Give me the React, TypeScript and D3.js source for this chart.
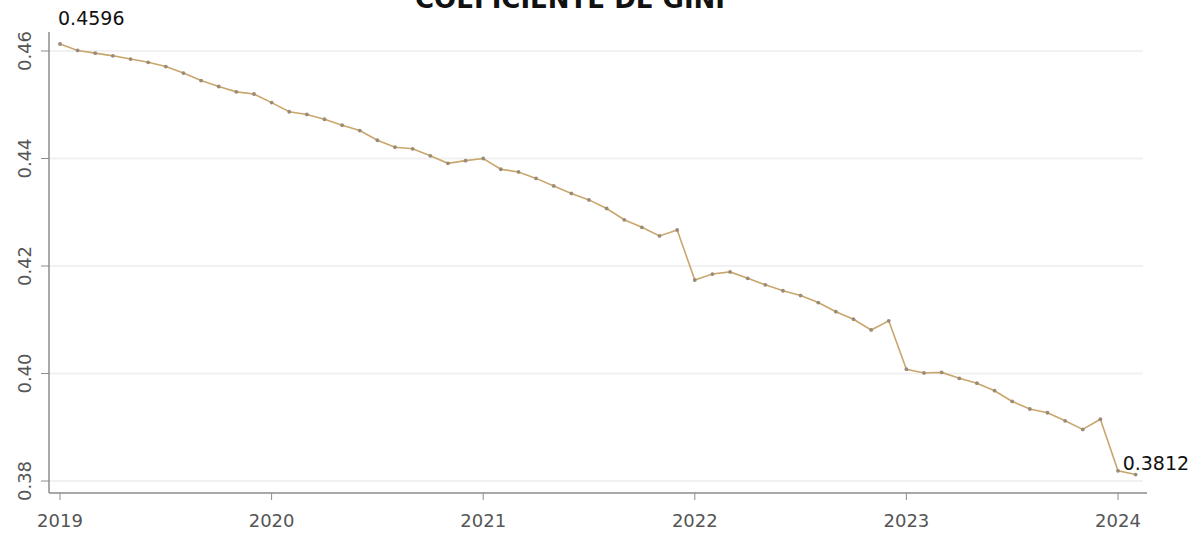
import React from "react";
import * as d3 from "d3";

// Monthly Gini coefficient, Jan 2019 – Feb 2024
const startYear = 2019;
const giniValues = [
  0.4613, 0.4601, 0.4596, 0.4591, 0.4585, 0.4579, 0.4571, 0.4559, 0.4545, 0.4534, 0.4524, 0.452,
  0.4504, 0.4487, 0.4482, 0.4473, 0.4462, 0.4452, 0.4434, 0.4421, 0.4418, 0.4405, 0.4391, 0.4396,
  0.44, 0.438, 0.4375, 0.4363, 0.4349, 0.4335, 0.4323, 0.4307, 0.4286, 0.4272, 0.4256, 0.4267,
  0.4174, 0.4185, 0.4189, 0.4177, 0.4165, 0.4154, 0.4145, 0.4132, 0.4115, 0.4101, 0.4081, 0.4098,
  0.4008, 0.4001, 0.4002, 0.3991, 0.3982, 0.3968, 0.3948, 0.3934, 0.3927, 0.3912, 0.3896, 0.3915,
  0.3819, 0.3812,
];
const yTicks = [0.38, 0.4, 0.42, 0.44, 0.46];
const yTickLabels = ["0.38", "0.40", "0.42", "0.44", "0.46"];
const xTickYears = [2019, 2020, 2021, 2022, 2023, 2024];
const title = "COEFICIENTE DE GINI";
const firstLabel = "0.4596";
const lastLabel = "0.3812";

const W = 1199;
const H = 533;
const FONT = "'DejaVu Sans', sans-serif";

export default function App() {
  const x = d3.scaleLinear().domain([2019, 2024]).range([60, 1118]);
  const y = d3.scaleLinear().domain([0.38, 0.46]).range([481, 51]);
  const axisLeft = 49;
  const axisRight = 1147;
  const axisBottom = 493;
  const axisTop = 32;

  const pts = giniValues.map((v, i) => ({ t: startYear + i / 12, v }));
  const line = d3
    .line<{ t: number; v: number }>()
    .x((d) => x(d.t))
    .y((d) => y(d.v));

  const first = pts[0];
  const last = pts[pts.length - 1];

  return (
    <div style={{ position: "absolute", left: 0, top: 0 }}>
      <svg width={W} height={H} style={{ display: "block", background: "#fff" }}>
        {/* title */}
        <text x={570} y={8} textAnchor="middle" fontFamily={FONT} fontWeight="bold" fontSize={26} fill="#111">
          {title}
        </text>
        {/* gridlines */}
        {yTicks.map((t) => (
          <line key={"g" + t} x1={axisLeft} x2={axisRight - 4} y1={y(t)} y2={y(t)} stroke="#f1f1f1" strokeWidth={2} />
        ))}
        {/* axes */}
        <line x1={axisLeft} x2={axisLeft} y1={axisTop} y2={axisBottom} stroke="#8c8c8c" strokeWidth={1.5} />
        <line x1={axisLeft} x2={axisRight} y1={axisBottom} y2={axisBottom} stroke="#8c8c8c" strokeWidth={1.5} />
        {yTicks.map((t, i) => (
          <g key={"yt" + t}>
            <line x1={axisLeft - 8} x2={axisLeft} y1={y(t)} y2={y(t)} stroke="#8c8c8c" strokeWidth={1} />
            <text
              transform={`translate(${31},${y(t)}) rotate(-90)`}
              textAnchor="middle"
              fontFamily={FONT}
              fontSize={18}
              fill="#555"
            >
              {yTickLabels[i]}
            </text>
          </g>
        ))}
        {xTickYears.map((yr) => (
          <g key={"xt" + yr}>
            <line x1={x(yr)} x2={x(yr)} y1={axisBottom} y2={axisBottom + 7} stroke="#8c8c8c" strokeWidth={1} />
            <text x={x(yr)} y={527} textAnchor="middle" fontFamily={FONT} fontSize={18} fill="#555">
              {yr}
            </text>
          </g>
        ))}
        {/* series */}
        <path d={line(pts) || ""} fill="none" stroke="#c9a66b" strokeWidth={1.6} />
        {pts.map((p, i) => (
          <circle key={"p" + i} cx={x(p.t)} cy={y(p.v)} r={1.9} fill="#9a8a78" />
        ))}
        {/* end labels */}
        <text x={x(first.t) - 2} y={y(first.v) - 19} fontFamily={FONT} fontSize={19} fill="#111">
          {firstLabel}
        </text>
        <text x={x(last.t) - 13} y={y(last.v) - 5} fontFamily={FONT} fontSize={19} fill="#111">
          {lastLabel}
        </text>
      </svg>
    </div>
  );
}
